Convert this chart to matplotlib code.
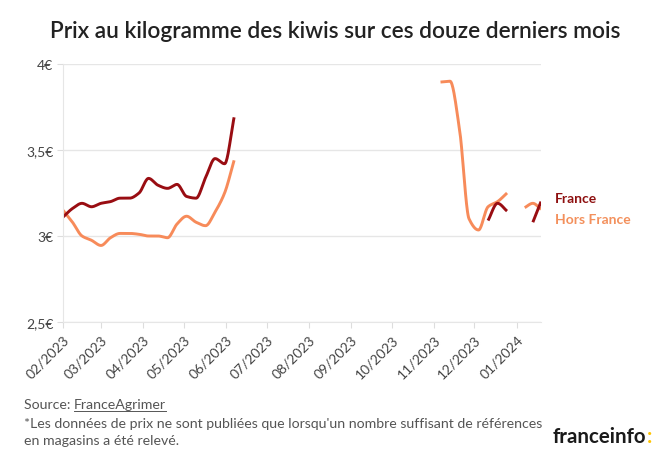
import numpy as np
import pandas as pd
import matplotlib
matplotlib.use("Agg")
import matplotlib.pyplot as plt
import matplotlib.dates as mdates
from matplotlib.lines import Line2D

plt.rcParams["font.family"] = ["Lato", "DejaVu Sans"]

# weekly prices (EUR/kg), split in segments where data is missing
dates_1 = pd.date_range("2023-02-01", periods=19, freq="7D")
france_1 = [3.11, 3.16, 3.19, 3.17, 3.19, 3.20, 3.22, 3.22, 3.25, 3.335,
            3.295, 3.277, 3.30, 3.23, 3.22, 3.34, 3.45, 3.42, 3.69]
hors_1 = [3.15, 3.08, 3.00, 2.975, 2.945, 2.99, 3.015, 3.015, 3.01, 3.00,
          3.00, 2.99, 3.07, 3.115, 3.08, 3.06, 3.14, 3.25, 3.44]

dates_hors_2 = pd.date_range("2023-11-06", periods=8, freq="7D")
hors_2 = [3.895, 3.90, 3.62, 3.10, 3.035, 3.17, 3.20, 3.25]

dates_france_2 = pd.to_datetime(["2023-12-11", "2023-12-18", "2023-12-25"])
france_2 = [3.09, 3.19, 3.145]

dates_hors_3 = pd.to_datetime(["2024-01-07", "2024-01-13", "2024-01-19"])
hors_3 = [3.165, 3.19, 3.155]

dates_france_3 = pd.to_datetime(["2024-01-13", "2024-01-19"])
france_3 = [3.08, 3.20]

month_ticks = pd.date_range("2023-02-01", "2024-01-01", freq="MS")
month_labels = [d.strftime("%m/%Y") for d in month_ticks]
y_ticks = [2.5, 3, 3.5, 4]
y_labels = ["2,5€", "3€", "3,5€", "4€"]

RED = "#990d12"
ORANGE = "#f78b5a"


def smooth(dates, values, n=20):
    # monotone cubic curve through the points (only for drawing)
    x = mdates.date2num(dates)
    y = np.asarray(values, dtype=float)
    if len(x) < 3:
        return x, y
    h = np.diff(x)
    d = np.diff(y) / h
    m = np.zeros_like(y)
    m[0], m[-1] = d[0], d[-1]
    for i in range(1, len(y) - 1):
        if d[i - 1] * d[i] > 0:
            w1 = 2 * h[i] + h[i - 1]
            w2 = h[i] + 2 * h[i - 1]
            m[i] = (w1 + w2) / (w1 / d[i - 1] + w2 / d[i])
    xs, ys = [], []
    for i in range(len(x) - 1):
        t = np.linspace(0, 1, n)
        h00 = 2 * t**3 - 3 * t**2 + 1
        h10 = t**3 - 2 * t**2 + t
        h01 = -2 * t**3 + 3 * t**2
        h11 = t**3 - t**2
        xs.append(x[i] + t * h[i])
        ys.append(h00 * y[i] + h10 * h[i] * m[i] + h01 * y[i + 1] + h11 * h[i] * m[i + 1])
    return np.concatenate(xs), np.concatenate(ys)


fig = plt.figure(figsize=(6.6, 4.6), dpi=100)
ax = fig.add_axes([63 / 660, 1 - 323 / 460, 478 / 660, 258 / 460])

for d, v in [(dates_1, hors_1), (dates_hors_2, hors_2), (dates_hors_3, hors_3)]:
    ax.plot(*smooth(d, v), color=ORANGE, lw=2.1, solid_capstyle="butt")
for d, v in [(dates_1, france_1), (dates_france_2, france_2), (dates_france_3, france_3)]:
    ax.plot(*smooth(d, v), color=RED, lw=2.1, solid_capstyle="butt")

ax.set_xlim(mdates.date2num(pd.Timestamp("2023-02-01")),
            mdates.date2num(pd.Timestamp("2024-01-19")))
ax.set_ylim(2.5, 4)
ax.set_yticks(y_ticks)
ax.set_yticklabels(y_labels)
ax.set_xticks(mdates.date2num(month_ticks))
ax.set_xticklabels(month_labels, rotation=45, ha="right", rotation_mode="anchor")

for s in ["top", "right"]:
    ax.spines[s].set_visible(False)
for s in ["left", "bottom"]:
    ax.spines[s].set_color("#e6e6e6")
ax.grid(axis="y", color="#e6e6e6", lw=1)
ax.set_axisbelow(True)
ax.tick_params(axis="both", colors="#dddddd", labelcolor="#444444", length=4)
ax.tick_params(axis="y", labelsize=10, pad=3)
ax.tick_params(axis="x", labelsize=10, pad=4)

fig.text(0.508, 1 - 32 / 460, "Prix au kilogramme des kiwis sur ces douze derniers mois",
         ha="center", va="center", fontsize=16.3, fontweight="semibold", color="#222222")

fig.text(555 / 660, 1 - 199 / 460, "France", color="#8e1010", fontsize=10,
         fontweight="bold", va="center")
fig.text(555 / 660, 1 - 220 / 460, "Hors France", color="#f3905c", fontsize=10,
         fontweight="bold", va="center")

src = fig.text(24 / 660, 1 - 405 / 460, "Source: ", fontsize=10.2, color="#555555", va="center")
fig.canvas.draw()
bb = src.get_window_extent()
link = fig.text(bb.x1 / 660, 1 - 405 / 460, "FranceAgrimer", fontsize=10.2,
                color="#555555", va="center")
fig.canvas.draw()
lb = link.get_window_extent()
fig.add_artist(Line2D([lb.x0 / 660, lb.x1 / 660], [(lb.y0 - 1) / 460] * 2,
                      color="#555555", lw=0.7))
fig.text(24 / 660, 1 - 424 / 460,
         "*Les données de prix ne sont publiées que lorsqu'un nombre suffisant de références",
         fontsize=10.2, color="#555555", va="center")
fig.text(24 / 660, 1 - 441 / 460, "en magasins a été relevé.",
         fontsize=10.2, color="#555555", va="center")

logo = fig.text(553 / 660, 1 - 437 / 460, "franceinfo", fontsize=14.8, fontweight="bold",
                color="#1a1a1a", va="center")
fig.canvas.draw()
gb = logo.get_window_extent()
fig.text(gb.x1 / 660, 1 - 437 / 460, ":", fontsize=14.8, fontweight="bold",
         color="#ffc400", va="center")

fig.savefig("out.png", dpi=100)
